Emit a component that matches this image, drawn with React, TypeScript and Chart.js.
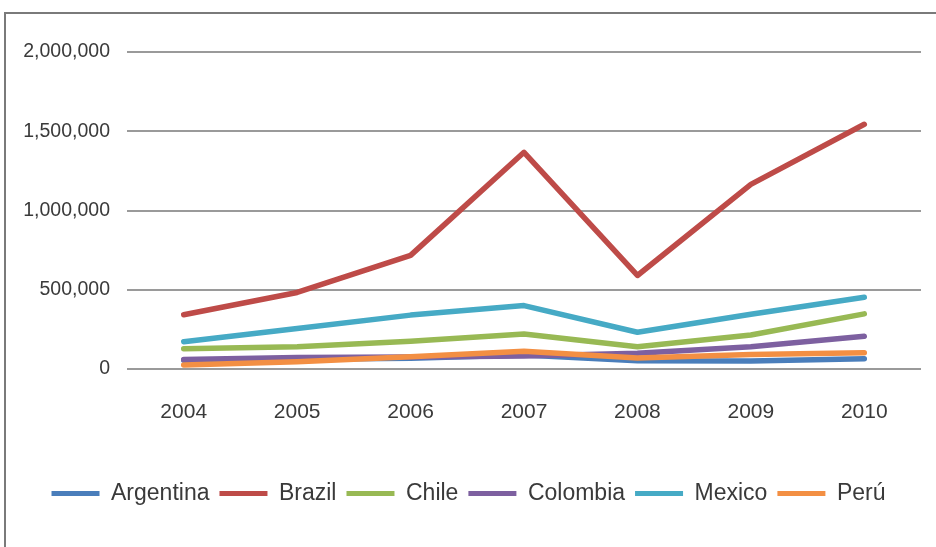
import React, { useEffect, useRef } from "react";
import { Chart, registerables } from "chart.js";

Chart.register(...registerables);

const years = ["2004", "2005", "2006", "2007", "2008", "2009", "2010"];
const argentina = [55000, 62000, 68000, 88000, 52000, 50000, 64000];
const brazil = [342000, 483000, 717000, 1367000, 590000, 1165000, 1544000];
const chile = [128000, 140000, 175000, 221000, 140000, 215000, 348000];
const colombia = [60000, 72000, 76000, 82000, 100000, 140000, 207000];
const mexico = [172000, 255000, 340000, 400000, 232000, 345000, 453000];
const peru = [25000, 45000, 78000, 112000, 70000, 92000, 102000];

const seriesNames = ["Argentina", "Brazil", "Chile", "Colombia", "Mexico", "Perú"];
const seriesColors = ["#4A7EBB", "#BE4B48", "#98B954", "#7D60A0", "#46AAC5", "#F38F43"];
const yTicks = [0, 500000, 1000000, 1500000, 2000000];

const FONT = "'Liberation Sans', Arial, sans-serif";

export default function App() {
  const ref = useRef<HTMLCanvasElement | null>(null);

  useEffect(() => {
    if (!ref.current) return;
    const values = [argentina, brazil, chile, colombia, mexico, peru];
    const chart = new Chart(ref.current, {
      type: "line",
      data: {
        labels: years,
        datasets: values.map((d, i) => ({
          label: seriesNames[i],
          data: d,
          borderColor: seriesColors[i],
          backgroundColor: seriesColors[i],
          borderWidth: 5.5,
          pointRadius: 0,
          pointHoverRadius: 0,
          tension: 0,
          fill: false,
          borderJoinStyle: "round" as const,
          borderCapStyle: "round" as const,
          order: values.length - i,
        })),
      },
      options: {
        responsive: false,
        animation: false,
        layout: { padding: { left: 16, right: 15, top: 52, bottom: 32 } },
        scales: {
          x: {
            type: "category",
            offset: true,
            afterFit: (scale: any) => {
              scale.height = 103;
            },
            grid: { display: false, drawTicks: false },
            border: { display: false },
            ticks: {
              padding: 31,
              color: "#3a3a3a",
              font: { family: FONT, size: 21 },
            },
          },
          y: {
            min: 0,
            max: 2000000,
            afterFit: (scale: any) => {
              scale.width = 111;
            },
            afterBuildTicks: (scale: any) => {
              scale.ticks = yTicks.map((v) => ({ value: v }));
            },
            grid: { color: "#9a9a9a", lineWidth: 2, drawTicks: false },
            border: { display: false },
            ticks: {
              padding: 17,
              color: "#3a3a3a",
              font: { family: FONT, size: 19.5 },
              callback: (v: any) => Number(v).toLocaleString("en-US"),
            },
          },
        },
        plugins: {
          legend: {
            position: "bottom",
            labels: {
              boxWidth: 48,
              boxHeight: 5,
              padding: 10,
              color: "#3a3a3a",
              font: { family: FONT, size: 23 },
              sort: (a: any, b: any) => a.datasetIndex - b.datasetIndex,
              generateLabels: (c: any) =>
                (Chart.defaults.plugins.legend.labels as any)
                  .generateLabels(c)
                  .map((l: any) => ({ ...l, lineWidth: 0, fillStyle: l.strokeStyle })),
            },
          },
          tooltip: { enabled: false },
        },
      },
    });
    return () => chart.destroy();
  }, []);

  return (
    <div style={{ position: "fixed", left: 0, top: 0, width: 936, height: 547, overflow: "hidden", background: "#ffffff" }}>
      <div
        style={{
          position: "absolute",
          left: 4,
          top: 12,
          width: 1000,
          height: 600,
          borderLeft: "2px solid #7a7a7a",
          borderTop: "2px solid #7a7a7a",
        }}
      />
      <canvas ref={ref} width={936} height={547} style={{ position: "absolute", left: 0, top: 0, width: 936, height: 547 }} />
    </div>
  );
}
